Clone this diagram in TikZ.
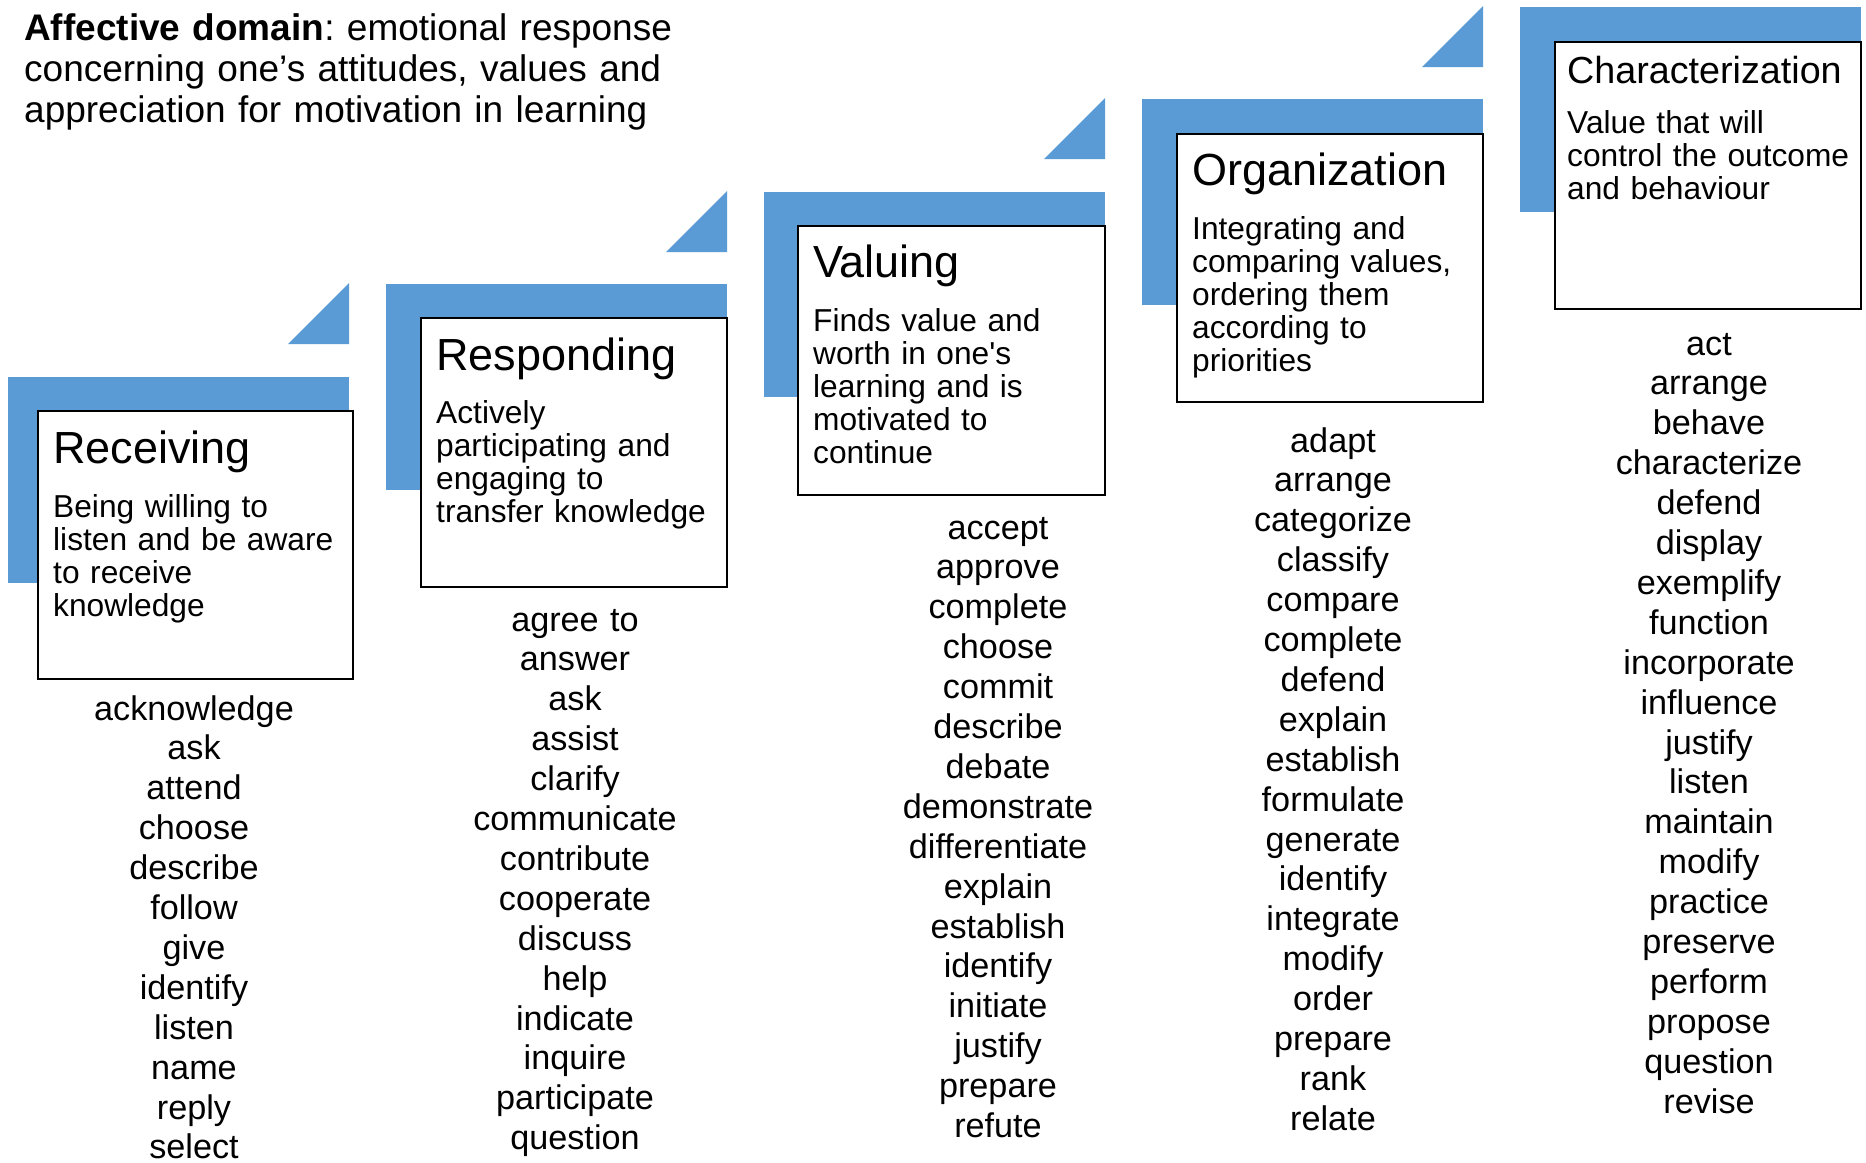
\documentclass[tikz,border=0pt]{standalone}
\usepackage{fontspec}
\setmainfont{Liberation Sans}
\frenchspacing
\definecolor{stepblue}{HTML}{5B9BD5}
\tikzset{
  bluebar/.style={fill=stepblue, draw=none},
  stagebox/.style={draw=black, line width=2.7pt, fill=white, anchor=north west, inner sep=0pt, outer sep=0pt},
  stagetitle/.style={anchor=base west, inner sep=0pt, font=\fontsize{45}{50}\selectfont},
  stagedesc/.style={anchor=base west, inner sep=0pt, text width=300pt, align=left, font=\fontsize{31.7}{33}\selectfont},
  verblist/.style={anchor=base, inner sep=0pt, text width=300pt, align=center, font=\fontsize{34.2}{39.9}\selectfont},
  headtext/.style={anchor=base west, inner sep=0pt, text width=700pt, align=left, font=\fontsize{37}{41}\selectfont},
}
\begin{document}
\begin{tikzpicture}[x=1pt,y=-1pt]
\useasboundingbox[fill=white] (0,0) rectangle (1866,1162);

% heading
\node[headtext] (head) at (24,40) {\textbf{Affective domain}: emotional response\\concerning one’s attitudes, values and\\appreciation for motivation in learning};

% ---------- Receiving ----------
\fill[bluebar] (8,377) rectangle (349,583);
\fill[bluebar] (288,344) -- (349,344) -- (349,283) -- cycle;
\node[stagebox, minimum width=315pt, minimum height=268pt] (recbox) at (38,411) {};
\node[stagetitle] (rectitle) at (53,463) {Receiving};
\node[stagedesc] (recdesc) at (53,517) {Being willing to\\listen and be aware\\to receive\\knowledge};
\node[verblist] (reclist) at (194,720) {acknowledge\\ask\\attend\\choose\\describe\\follow\\give\\identify\\listen\\name\\reply\\select};

% ---------- Responding ----------
\fill[bluebar] (386,284) rectangle (727,490);
\fill[bluebar] (666,252) -- (727,252) -- (727,191) -- cycle;
\node[stagebox, minimum width=306pt, minimum height=269pt] (resbox) at (421,318) {};
\node[stagetitle] (restitle) at (436,370) {Responding};
\node[stagedesc] (resdesc) at (436,423) {Actively\\participating and\\engaging to\\transfer knowledge};
\node[verblist] (reslist) at (575,631) {agree to\\answer\\ask\\assist\\clarify\\communicate\\contribute\\cooperate\\discuss\\help\\indicate\\inquire\\participate\\question};

% ---------- Valuing ----------
\fill[bluebar] (764,192) rectangle (1105,397);
\fill[bluebar] (1044,159) -- (1105,159) -- (1105,98) -- cycle;
\node[stagebox, minimum width=307pt, minimum height=269pt] (valbox) at (798,226) {};
\node[stagetitle] (valtitle) at (813,277) {Valuing};
\node[stagedesc] (valdesc) at (813,331) {Finds value and\\worth in one\textquotesingle s\\learning and is\\motivated to\\continue};
\node[verblist] (vallist) at (998,539) {accept\\approve\\complete\\choose\\commit\\describe\\debate\\demonstrate\\differentiate\\explain\\establish\\identify\\initiate\\justify\\prepare\\refute};

% ---------- Organization ----------
\fill[bluebar] (1142,99) rectangle (1483,305);
\fill[bluebar] (1422,67) -- (1483,67) -- (1483,6) -- cycle;
\node[stagebox, minimum width=306pt, minimum height=268pt] (orgbox) at (1177,134) {};
\node[stagetitle] (orgtitle) at (1192,185) {Organization};
\node[stagedesc] (orgdesc) at (1192,239) {Integrating and\\comparing values,\\ordering them\\according to\\priorities};
\node[verblist] (orglist) at (1333,452) {adapt\\arrange\\categorize\\classify\\compare\\complete\\defend\\explain\\establish\\formulate\\generate\\identify\\integrate\\modify\\order\\prepare\\rank\\relate};

% ---------- Characterization ----------
\fill[bluebar] (1520,7) rectangle (1861,212);
\node[stagebox, minimum width=306pt, minimum height=267pt] (chabox) at (1555,42) {};
\node[stagetitle, font=\fontsize{37.7}{42}\selectfont] (chatitle) at (1567,83) {Characterization};
\node[stagedesc] (chadesc) at (1567,133) {Value that will\\control the outcome\\and behaviour};
\node[verblist] (chalist) at (1709,355) {act\\arrange\\behave\\characterize\\defend\\display\\exemplify\\function\\incorporate\\influence\\justify\\listen\\maintain\\modify\\practice\\preserve\\perform\\propose\\question\\revise};
\end{tikzpicture}
\end{document}
